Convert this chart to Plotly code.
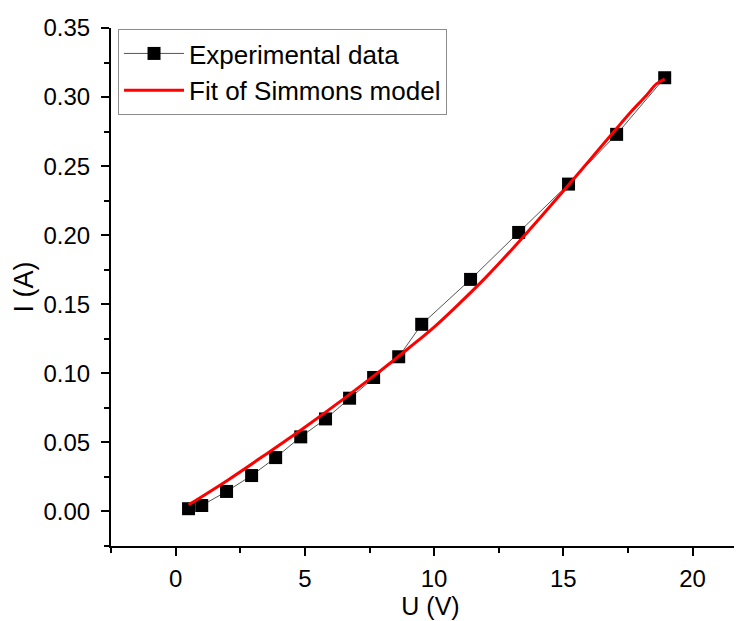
import plotly.graph_objects as go

# Experimental data
u_exp = [0.50, 1.01, 1.97, 2.94, 3.87, 4.84, 5.80, 6.73, 7.66, 8.63, 9.52, 11.41, 13.27, 15.20, 17.06, 18.92]
i_exp = [0.002, 0.0043, 0.0145, 0.026, 0.039, 0.054, 0.067, 0.082, 0.097, 0.112, 0.1355, 0.168, 0.202, 0.237, 0.273, 0.314]

# Fit of Simmons model
u_fit = [0.5, 2.0, 3.5, 5.0, 6.5, 8.0, 9.0, 10.0, 11.0, 12.0, 13.0, 14.0, 15.0, 16.0, 17.0, 17.6, 18.2, 18.6, 18.92]
i_fit = [0.0048, 0.0225, 0.0415, 0.061, 0.0815, 0.103, 0.118, 0.1335, 0.151, 0.1695, 0.1895, 0.2105, 0.232, 0.254, 0.276, 0.289, 0.301, 0.3095, 0.313]

FONT = "Liberation Sans, Arial, sans-serif"

fig = go.Figure()
fig.add_trace(go.Scatter(
    x=u_exp, y=i_exp, mode="lines+markers", name="Experimental data",
    line=dict(color="#555555", width=1),
    marker=dict(symbol="square", size=13, color="black"),
))
fig.add_trace(go.Scatter(
    x=u_fit, y=i_fit, mode="lines", name="Fit of Simmons model",
    line=dict(color="#ff0000", width=3, shape="spline", smoothing=1.0),
))

fig.update_layout(
    width=742, height=621,
    margin=dict(l=103, r=0, t=20, b=83),
    paper_bgcolor="white", plot_bgcolor="white",
    font=dict(family=FONT, color="black", size=24),
    legend=dict(
        x=0.011, y=0.998, xanchor="left", yanchor="top",
        bordercolor="#8c8c8c", borderwidth=1, bgcolor="white",
        font=dict(size=26, family=FONT, color="black"),
        itemwidth=60,
    ),
    showlegend=True,
)
fig.update_xaxes(
    range=[-2.5, 22.22], tick0=0, dtick=5,
    showline=True, linecolor="black", linewidth=2,
    ticks="outside", ticklen=8, tickwidth=2, tickcolor="black",
    minor=dict(ticks="outside", dtick=2.5, tick0=0, ticklen=5, tickwidth=2, tickcolor="black"),
    showgrid=False, zeroline=False,
    tickfont=dict(size=24), ticklabelstandoff=2,
    title=dict(text="U (V)", font=dict(size=25), standoff=0),
)
fig.update_yaxes(
    range=[-0.025, 0.35], tick0=0, dtick=0.05, tickformat=".2f",
    showline=True, linecolor="black", linewidth=2,
    ticks="outside", ticklen=8, tickwidth=2, tickcolor="black",
    minor=dict(ticks="outside", dtick=0.025, tick0=0, ticklen=5, tickwidth=2, tickcolor="black"),
    showgrid=False, zeroline=False,
    tickfont=dict(size=24), ticklabelstandoff=6,
    title=dict(text="I (A)", font=dict(size=27), standoff=2),
)

fig.write_html("out.html")
